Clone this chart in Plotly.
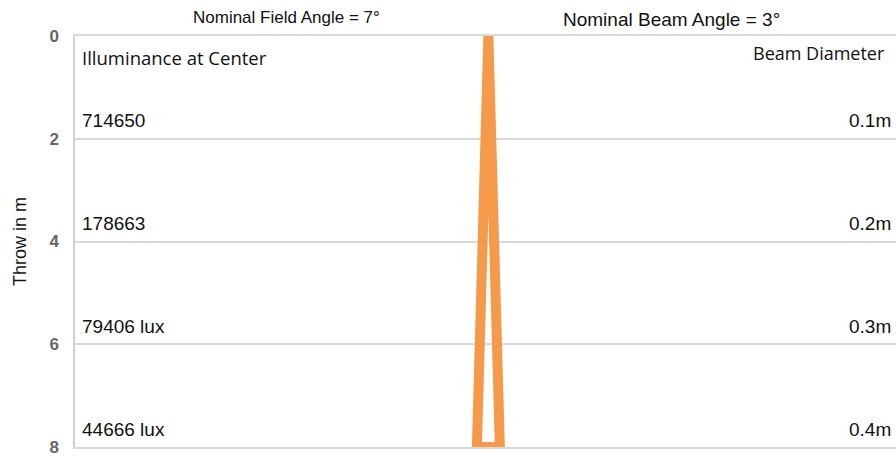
import plotly.graph_objects as go

# Data
throw_marks = [2, 4, 6, 8]
illuminance_labels = ["714650", "178663", "79406 lux", "44666 lux"]
diameter_labels = ["0.1m", "0.2m", "0.3m", "0.4m"]
beam_x = [0, -0.2, 0.2, 0]   # beam half-widths (m) of outline at throw
beam_y = [0, 8, 8, 0]
field_title = "Nominal Field Angle = 7°"
beam_title = "Nominal Beam Angle = 3°"

ORANGE = "#F5994A"
FONT = "Liberation Sans, Arial, sans-serif"
GRID = "#d9d9d9"

fig = go.Figure()
fig.add_trace(go.Scatter(x=beam_x, y=beam_y, mode="lines",
                         line=dict(color=ORANGE, width=10),
                         hoverinfo="skip", showlegend=False))

ann = []
ann.append(dict(x=0, xref="paper", y=0, yref="y", text="Illuminance at Center",
                xanchor="left", yanchor="middle", xshift=5, yshift=-21,
                showarrow=False, font=dict(family="Open Sans, sans-serif", size=18.5, color="#111")))
ann.append(dict(x=1, xref="paper", y=0, yref="y", text="Beam Diameter",
                xanchor="right", yanchor="middle", xshift=-9, yshift=-17,
                showarrow=False, font=dict(family="Open Sans, sans-serif", size=18, color="#111")))
for t, il, d in zip(throw_marks, illuminance_labels, diameter_labels):
    ann.append(dict(x=0, xref="paper", y=t, yref="y", text=il,
                    xanchor="left", yanchor="middle", xshift=5, yshift=18,
                    showarrow=False, font=dict(family=FONT, size=19, color="#111")))
    ann.append(dict(x=1, xref="paper", y=t, yref="y", text=d,
                    xanchor="right", yanchor="middle", xshift=-3, yshift=18,
                    showarrow=False, font=dict(family=FONT, size=19, color="#111")))
ann.append(dict(x=0.258, xref="paper", y=1, yref="paper", text=field_title,
                xanchor="center", yanchor="middle", yshift=19,
                showarrow=False, font=dict(family=FONT, size=17, color="#111")))
ann.append(dict(x=0.727, xref="paper", y=1, yref="paper", text=beam_title,
                xanchor="center", yanchor="middle", yshift=17,
                showarrow=False, font=dict(family=FONT, size=19, color="#111")))

fig.update_layout(
    width=896, height=456,
    margin=dict(l=75, r=0, t=36, b=9),
    plot_bgcolor="white", paper_bgcolor="white",
    annotations=ann,
    xaxis=dict(range=[-7.2, 7.1], showgrid=False, zeroline=False,
               showticklabels=False, showline=True, linecolor=GRID,
               linewidth=1.5, mirror=True, fixedrange=True),
    yaxis=dict(range=[8, 0], tickvals=[0, 2, 4, 6, 8], showgrid=True,
               gridcolor=GRID, gridwidth=1.5, zeroline=False,
               showline=True, linecolor="#d0d0d0", linewidth=1.5,
               ticks="", ticklabelstandoff=11, fixedrange=True,
               ticklabeloverflow="allow",
               tickfont=dict(family=FONT, size=17, color="#666", weight="bold"),
               title=dict(text="Throw in m", standoff=18,
                          font=dict(family=FONT, size=18, color="#111"))),
)

fig.write_html("out.html", config={"displayModeBar": False},
               post_script="document.body.style.margin='0';document.body.style.overflow='hidden';")
